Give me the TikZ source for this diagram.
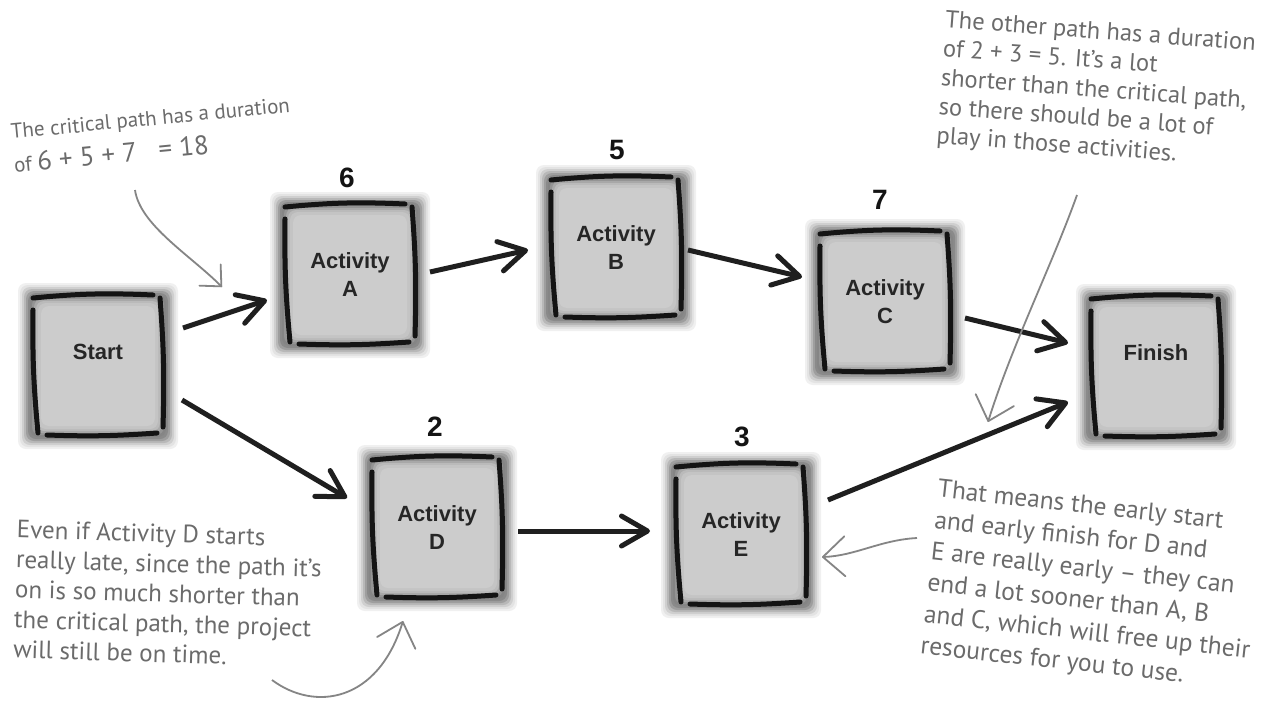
\documentclass[tikz,border=0pt]{standalone}
\usepackage{fontspec}
\setmainfont{Liberation Sans}
\newfontfamily\handfont{PT Sans}
\usetikzlibrary{arrows.meta,calc}

\tikzset{
  flow/.style={line width=5pt, draw=black!88,
    -{Straight Barb[length=26pt,width=30pt,round]}},
  note/.style={line width=1.8pt, draw=black!48,
    -{Straight Barb[length=22pt,width=40pt,round]}},
  notesmall/.style={note, -{Straight Barb[length=16pt,width=30pt,round]}},
  boxlabel/.style={font=\fontsize{22}{28}\selectfont\bfseries, text=black!85,
    align=center, minimum width=130pt, minimum height=136pt, inner sep=0pt},
  duration/.style={font=\fontsize{28}{30}\selectfont\bfseries, text=black!92, inner sep=0pt},
  remark/.style={text=black!58, align=left, anchor=north west, inner sep=0pt},
  edge stroke/.style={line width=5pt, line cap=round, draw=black!92},
  % grey card with a soft dark rim and four loose ink strokes
  pics/actbox/.style={code={
    \foreach \w/\h/\c in {80/83/6, 78/81/11, 76/79/19, 74/77/28, 72/75/38,
                          70/73/46, 68/71/48, 66/69/42, 64/67/34, 62/65/27, 60/63/23, 57/60/20}{
      \fill[black!\c, rounded corners=8pt] (-\w,-\h) rectangle (\w,\h);
    }
    \draw[edge stroke] (-65,-68) to[bend left=4] (55,-71);
    \draw[edge stroke] (-65,-56) to[bend right=3] (-60,67);
    \draw[edge stroke] (62,-68) to[bend left=3] (65,61);
    \draw[edge stroke] (-51,69) to[bend right=3] (59,67);
  }}
}

\newcommand\actbox[4]{%
  \pic at (#2,#3) {actbox};
  \node[boxlabel] (#1) at (#2,#3) {#4};%
}

\begin{document}
\begin{tikzpicture}[x=1pt,y=-1pt]
\useasboundingbox (0,0) rectangle (1272,704);
\fill[white] (0,0) rectangle (1272,704);

% activity cards
\actbox{start}{98}{366}{Start\\\mbox{}}
\actbox{a}{350}{275}{Activity\\A}
\actbox{b}{616}{248}{Activity\\B}
\actbox{c}{885}{302}{Activity\\C}
\actbox{fin}{1156}{367}{Finish\\\mbox{}}
\actbox{d}{437}{528}{Activity\\D}
\actbox{e}{741}{535}{Activity\\E}

% durations
\node[duration] (na) at ($(a)+(-3,-97)$) {6};
\node[duration] (nb) at ($(b)+(1,-98)$) {5};
\node[duration] (nc) at ($(c)+(-5,-102)$) {7};
\node[duration] (nd) at ($(d)+(-2,-101)$) {2};
\node[duration] (ne) at ($(e)+(1,-98)$) {3};

% dependencies
\draw[flow] ($(start)+(85,-38)$) -- ($(a)+(-83,25)$);
\draw[flow] ($(a)+(80,-3)$) -- ($(b)+(-88,2)$);
\draw[flow] ($(b)+(72,2)$) -- ($(c)+(-83,-25)$);
\draw[flow] ($(c)+(80,16)$) -- ($(fin)+(-88,-24)$);
\draw[flow] ($(start)+(84,34)$) -- ($(d)+(-90,-30)$);
\draw[flow] ($(d)+(81,3)$) -- ($(e)+(-91,-4)$);
\draw[flow] ($(e)+(87,-35)$) -- ($(fin)+(-88,35)$);

% handwritten remarks
\node[remark, font=\handfont\fontsize{21}{34}\selectfont, rotate=5.5] (note1) at (10,124)
  {The critical path has a duration\\of {\fontsize{27}{34}\selectfont 6 + 5 + 7 \ \ = 18}};
\node[remark, font=\handfont\fontsize{24.5}{29}\selectfont, rotate=-4.3] (note2) at (946,10)
  {The other path has a duration\\of 2 + 3 = 5. It’s a lot\\shorter than the critical path,\\so there should be a lot of\\play in those activities.};
\node[remark, font=\handfont\fontsize{25}{30}\selectfont, rotate=-1.7] (note3) at (17,520)
  {Even if Activity D starts\\really late, since the path it’s\\on is so much shorter than\\the critical path, the project\\will still be on time.};
\node[remark, font=\handfont\fontsize{25.5}{31.5}\selectfont, rotate=-6.3] (note4) at (939,479)
  {That means the early start\\and early finish for D and\\E are really early – they can\\end a lot sooner than A, B\\and C, which will free up their\\resources for you to use.};

% pointers from the remarks
\coordinate (tail1) at (135,190);
\coordinate (tail2) at (1077,195);
\coordinate (tail3) at (272,680);
\coordinate (tail4) at (917,538);
\draw[notesmall] (tail1) .. controls (140,225) and (190,255) .. ($(a)+(-128,12)$);
\draw[note] (tail2) .. controls (1052,265) and (1012,345) .. ($(fin)+(-168,55)$);
\draw[note] (tail3) .. controls (315,712) and (378,702) .. ($(d)+(-34,93)$);
\draw[note] (tail4) .. controls (880,540) and (855,556) .. ($(e)+(81,22)$);
\end{tikzpicture}
\end{document}
